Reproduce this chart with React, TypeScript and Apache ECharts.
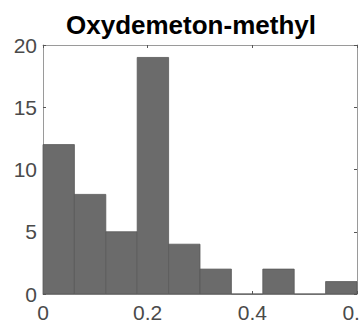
import React, { useEffect, useRef } from "react";
import * as echarts from "echarts";

// Histogram of Oxydemeton-methyl values: 10 equal bins on [0, 0.6]
const binEdges = [0, 0.06, 0.12, 0.18, 0.24, 0.3, 0.36, 0.42, 0.48, 0.54, 0.6];
const binCounts = [12, 8, 5, 19, 4, 2, 0, 2, 0, 1];
const xTicks = [0, 0.2, 0.4, 0.6];
const yTicks = [0, 5, 10, 15, 20];
const titleText = "Oxydemeton-methyl";

const FONT = "'Liberation Sans', Arial, Helvetica, sans-serif";
const FRAME = "#9a9a9a";
const LABEL = "#4a4a4a";

export default function App() {
  const ref = useRef<HTMLDivElement>(null);

  useEffect(() => {
    if (!ref.current) return;
    const chart = echarts.init(ref.current, undefined, { renderer: "svg" });

    const bins = binCounts.map((c, i) => [binEdges[i], binEdges[i + 1], c]);

    const axisCommon = {
      min: 0,
      axisLine: { show: true, onZero: false, lineStyle: { color: FRAME, width: 1 } },
      axisTick: { show: true, inside: true, length: 3, lineStyle: { color: "#555" } },
      splitLine: { show: false },
    };

    chart.setOption({
      animation: false,
      backgroundColor: "#fff",
      title: {
        text: titleText,
        left: 61,
        top: 7,
        textStyle: { fontFamily: FONT, fontWeight: "bold", fontSize: 26, color: "#000" },
      },
      grid: {
        left: 43,
        right: 2,
        top: 45,
        bottom: 31,
        containLabel: false,
        outerBoundsMode: "none",
      },
      xAxis: [
        {
          ...axisCommon,
          type: "value",
          position: "bottom",
          max: xTicks[xTicks.length - 1],
          interval: 0.2,
          axisLabel: {
            show: true,
            margin: 8,
            fontFamily: FONT,
            fontSize: 21,
            color: LABEL,
            formatter: (v: number) => String(Math.round(v * 10) / 10),
          },
        },
        {
          ...axisCommon,
          type: "value",
          position: "top",
          max: xTicks[xTicks.length - 1],
          interval: 0.2,
          axisLabel: { show: false },
        },
      ],
      yAxis: [
        {
          ...axisCommon,
          type: "value",
          position: "left",
          max: yTicks[yTicks.length - 1],
          interval: 5,
          axisLabel: { show: true, margin: 6, fontFamily: FONT, fontSize: 21, color: LABEL },
        },
        {
          ...axisCommon,
          type: "value",
          position: "right",
          max: yTicks[yTicks.length - 1],
          interval: 5,
          axisLabel: { show: false },
        },
      ],
      series: [
        {
          type: "custom",
          xAxisIndex: 0,
          yAxisIndex: 0,
          data: bins,
          renderItem: (params: any, api: any) => {
            const x0 = api.value(0);
            const x1 = api.value(1);
            const c = api.value(2);
            const p0 = api.coord([x0, 0]);
            const p1 = api.coord([x1, c]);
            return {
              type: "rect",
              shape: { x: p0[0], y: p1[1], width: p1[0] - p0[0], height: p0[1] - p1[1] },
              style: { fill: "#6b6b6b", stroke: "#595959", lineWidth: 0.8 },
            };
          },
        },
      ],
    });

    return () => chart.dispose();
  }, []);

  return <div ref={ref} style={{ width: 359, height: 325, position: "absolute", left: 0, top: 0 }} />;
}
